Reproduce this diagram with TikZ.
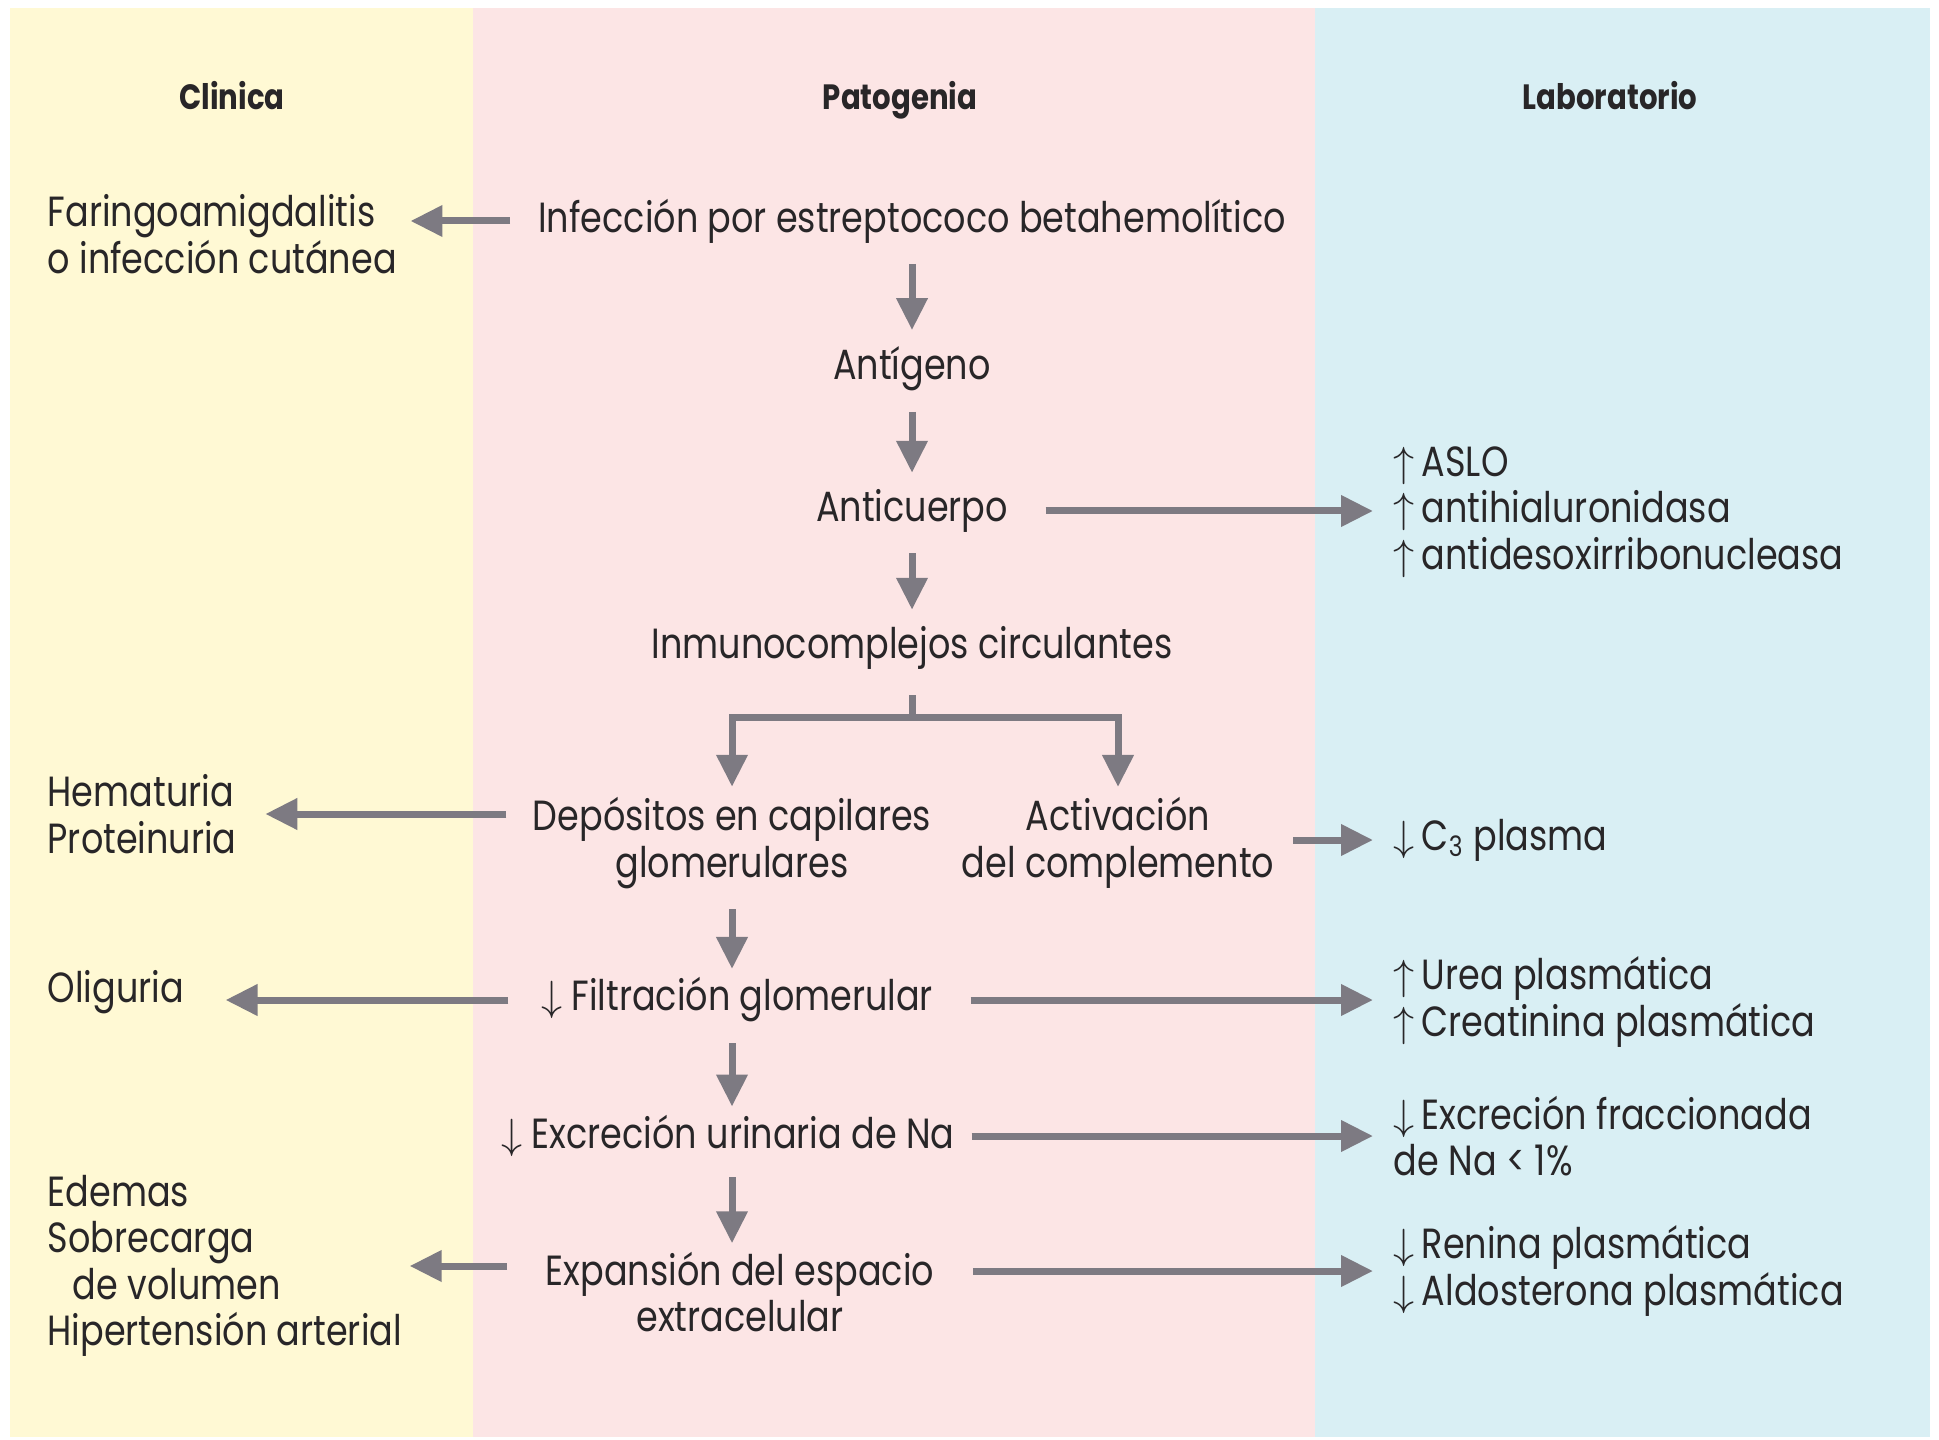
\documentclass[tikz,border=0pt]{standalone}
\usepackage{fontspec}
\setmainfont{Poppins}[FakeStretch=0.83]
\usetikzlibrary{arrows.meta}
\definecolor{amarillo}{RGB}{255,249,212}
\definecolor{rosa}{RGB}{252,229,229}
\definecolor{celeste}{RGB}{217,239,244}
\definecolor{grisflecha}{RGB}{125,122,130}
\definecolor{tinta}{RGB}{40,38,40}
\tikzset{
  texto/.style={inner sep=0pt, text=tinta, font=\fontsize{12}{13.2}\selectfont},
  titulo/.style={inner sep=0pt, anchor=base, text=tinta, font=\fontsize{10}{12}\selectfont\bfseries},
  tronco/.style={draw=grisflecha, line width=0.7mm},
  flecha/.style={tronco, -{Triangle[length=3.2mm,width=3mm]}},
  baja/.style={flecha, shorten <=2mm, shorten >=1.6mm},
  bajacorta/.style={flecha, shorten <=2mm, shorten >=0.8mm}
}

\begin{document}
\begin{tikzpicture}[x=0.1mm,y=-0.1mm]
\useasboundingbox (0,0) rectangle (1939,1440);
\fill[color=amarillo] (10,8) rectangle (473,1437);
\fill[color=rosa] (473,8) rectangle (1315,1437);
\fill[color=celeste] (1315,8) rectangle (1930,1437);

\node[titulo] (clinica) at (232,110) {Clinica};
\node[titulo] (patogenia) at (900,110) {Patogenia};
\node[titulo] (laboratorio) at (1610,110) {Laboratorio};

\node[texto, anchor=west, align=left] (faringo) at (47,234) {Faringoamigdalitis\\o infección cutánea};
\node[texto, anchor=west, align=left] (hematuria) at (47,814) {Hematuria\\Proteinuria};
\node[texto, anchor=west] (oliguria) at (47,992) {Oliguria};
\node[texto, anchor=west, align=left] (edemas) at (47,1266) {Edemas\\Sobrecarga\\\hspace*{2.5mm}de volumen\\Hipertensión arterial};

\node[texto] (infeccion) at (912,221) {Infección por estreptococo betahemolítico};
\node[texto] (antigeno) at (912,369) {Antígeno};
\node[texto] (anticuerpo) at (912,511) {Anticuerpo};
\node[texto] (inmuno) at (912,648) {Inmunocomplejos circulantes};
\node[texto, align=center] (depositos) at (732,843) {Depósitos en capilares\\glomerulares};
\node[texto, align=center] (activacion) at (1118,843) {Activación\\del complemento};
\node[texto] (filtracion) at (737,1000) {$\downarrow$ Filtración glomerular};
\node[texto] (excrecion) at (728,1136) {$\downarrow$ Excreción urinaria de Na};
\node[texto, align=center] (expansion) at (740,1292) {Expansión del espacio\\extracelular};

\node[texto, anchor=west, align=left] (aslo) at (1393,512) {$\uparrow$\,ASLO\\$\uparrow$\,antihialuronidasa\\$\uparrow$\,antidesoxirribonucleasa};
\node[texto, anchor=west] (plasma) at (1393,840) {$\downarrow$\,C\textsubscript{3} plasma};
\node[texto, anchor=west, align=left] (urea) at (1393,1002) {$\uparrow$\,Urea plasmática\\$\uparrow$\,Creatinina plasmática};
\node[texto, anchor=west, align=left] (fraccion) at (1393,1136) {$\downarrow$\,Excreción fraccionada\\de Na < 1\%};
\node[texto, anchor=west, align=left] (renina) at (1393,1271) {$\downarrow$\,Renina plasmática\\$\downarrow$\,Aldosterona plasmática};

\draw[baja] (infeccion) -- (antigeno);
\draw[baja] (antigeno) -- (anticuerpo);
\draw[baja] (anticuerpo) -- (inmuno);
\coordinate (rama) at (912,717);
\draw[tronco, shorten <=2.5mm] (inmuno) -- (rama);
\draw[flecha, shorten >=1mm] (rama) -| (depositos);
\draw[flecha, shorten >=1mm] (rama) -| (activacion);
\draw[bajacorta] (depositos) -- (depositos |- filtracion.north);
\draw[bajacorta] (filtracion.south -| depositos) -- (depositos |- excrecion.north);
\draw[bajacorta] (excrecion.south -| depositos) -- (depositos |- expansion.north);

\draw[flecha, shorten <=2.75mm, shorten >=1.3mm] (infeccion.west) -- (infeccion.west -| faringo.east);
\draw[flecha, shorten <=2.6mm, shorten >=2.8mm] (depositos.west |- hematuria.east) -- (hematuria.east);
\draw[flecha, shorten <=3.2mm, shorten >=4.1mm] (filtracion.west) -- (filtracion.west -| oliguria.east);
\draw[flecha, shorten <=3.8mm, shorten >=0.7mm] (expansion.west |- edemas.east) -- (edemas.east);

\draw[flecha, shorten <=3.7mm, shorten >=2mm] (anticuerpo.east) -- (anticuerpo.east -| aslo.west);
\draw[flecha, shorten <=1.85mm, shorten >=2mm] (activacion.east |- plasma.west) -- (plasma.west);
\draw[flecha, shorten <=3.7mm, shorten >=2mm] (filtracion.east) -- (filtracion.east -| urea.west);
\draw[flecha, shorten <=1.65mm, shorten >=2mm] (excrecion.east) -- (excrecion.east -| fraccion.west);
\draw[flecha, shorten <=3.8mm, shorten >=2mm] (expansion.east |- renina.west) -- (renina.west);
\end{tikzpicture}
\end{document}
